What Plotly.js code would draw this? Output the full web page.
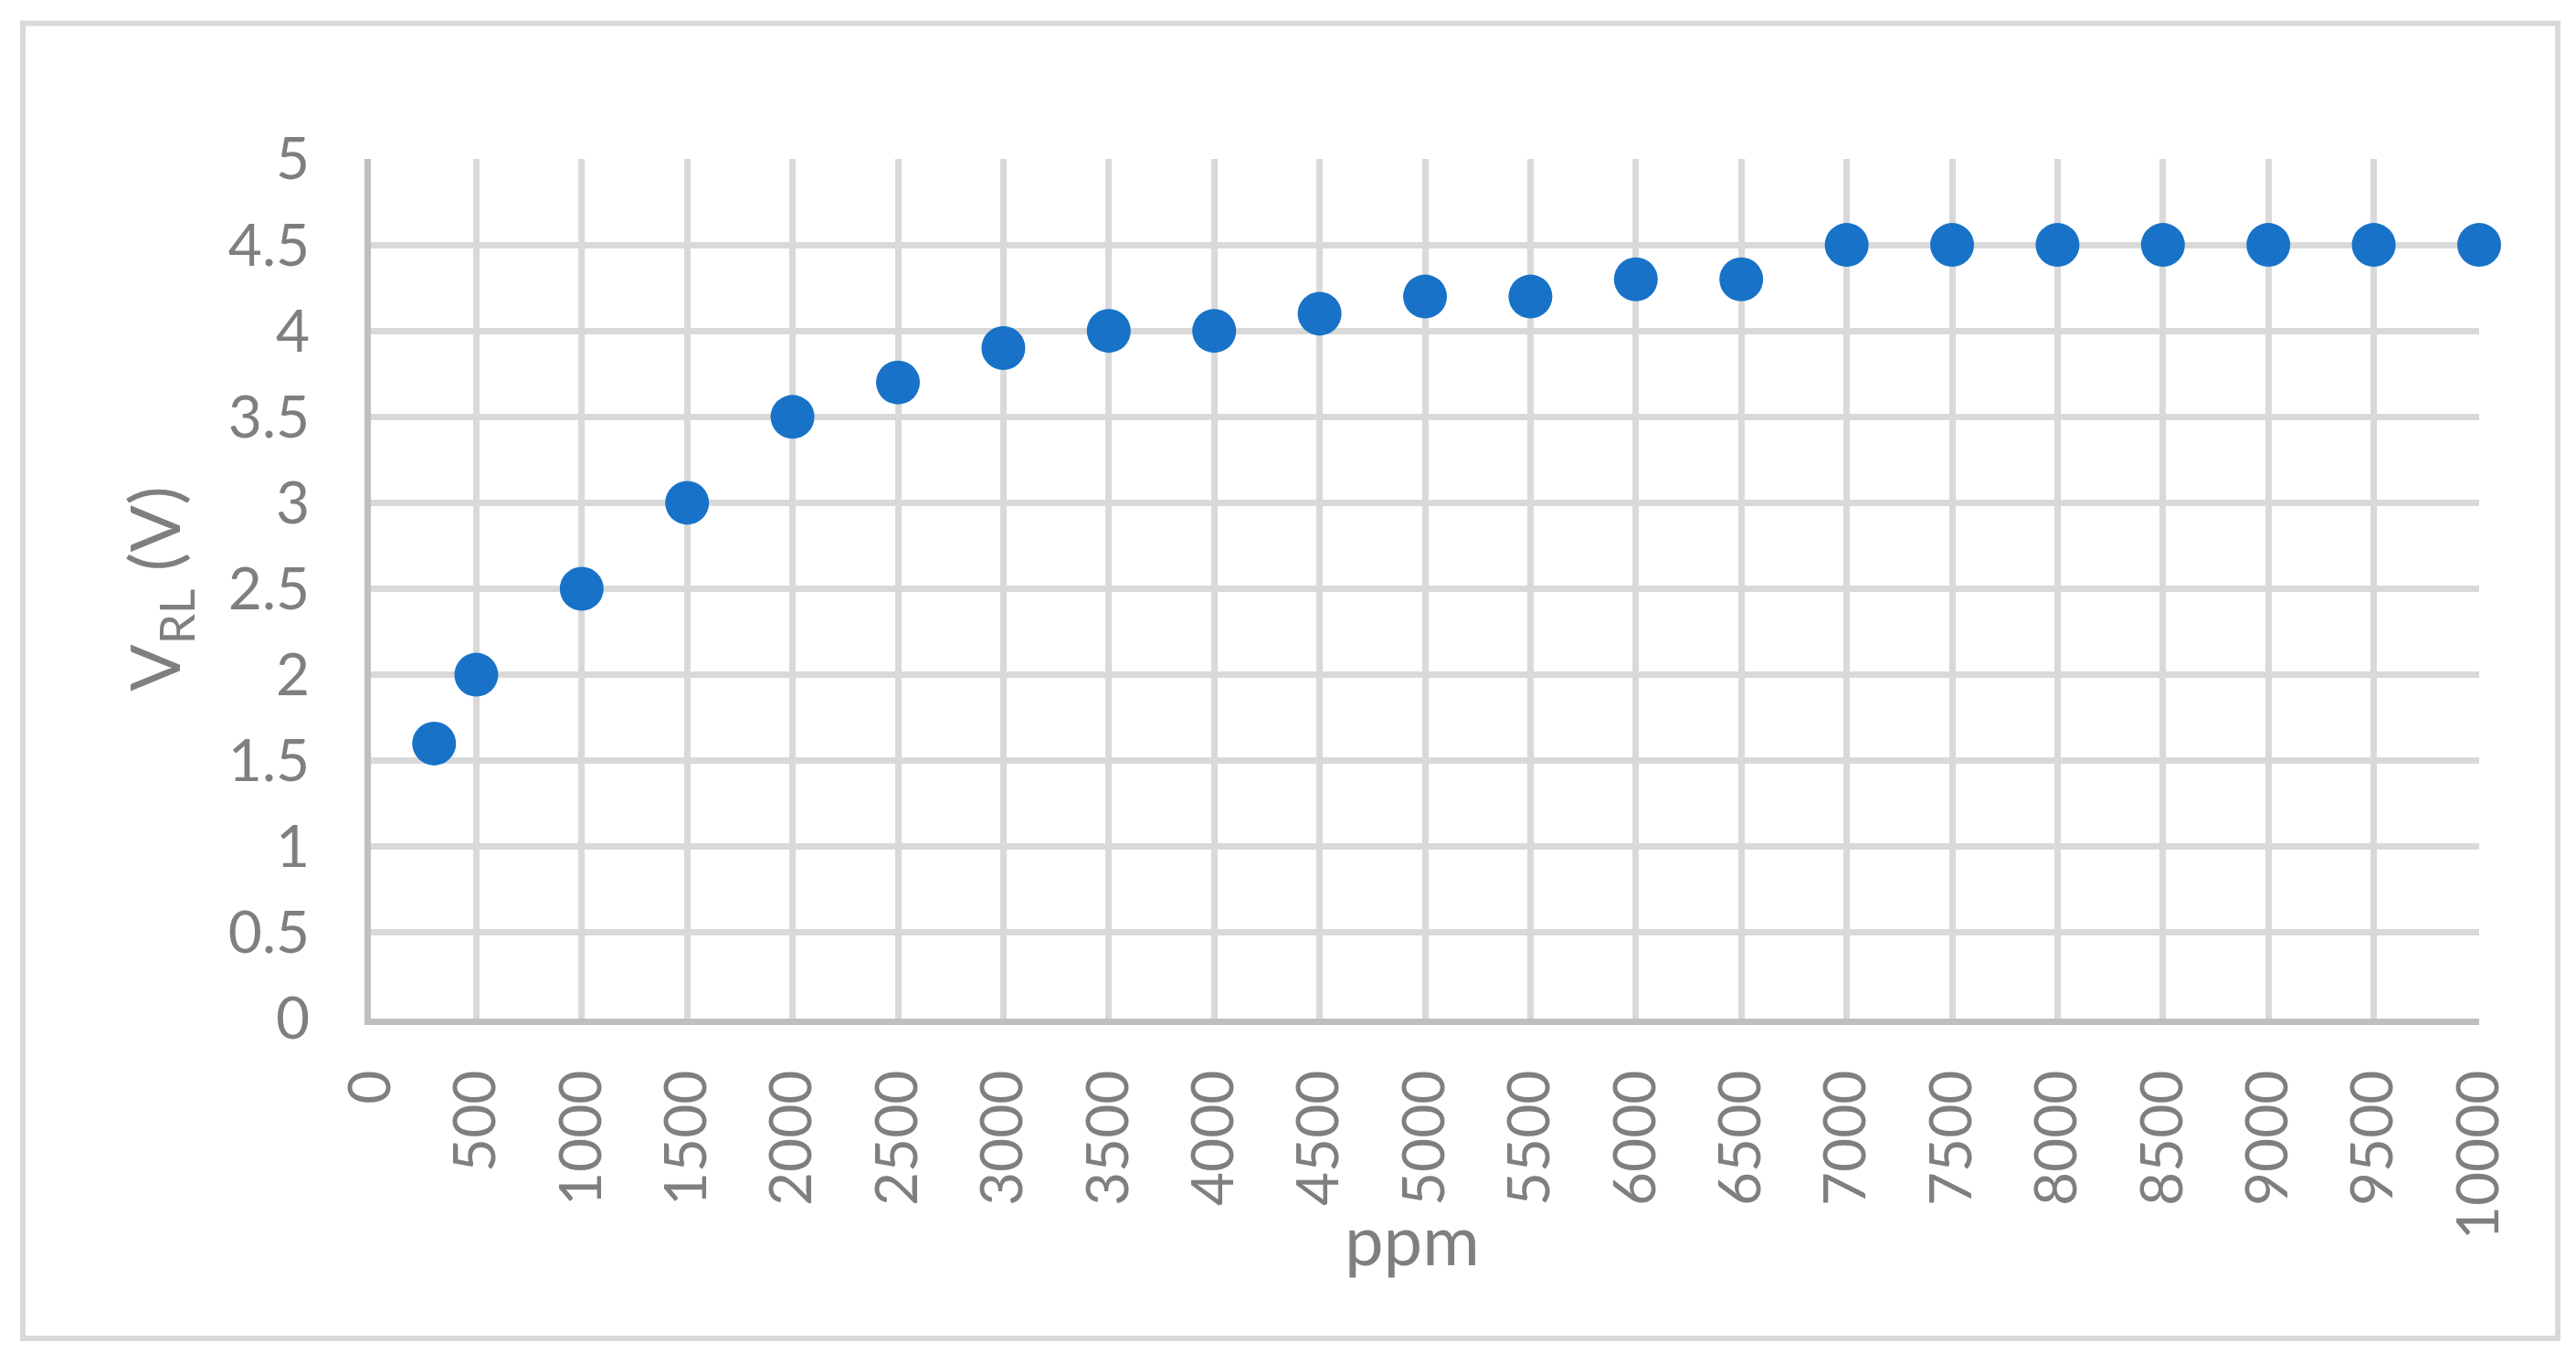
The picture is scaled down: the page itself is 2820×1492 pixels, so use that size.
<!DOCTYPE html>
<html>
<head>
<meta charset="utf-8">
<script src="https://cdn.plot.ly/plotly-3.0.1.min.js"></script>
<style>
  html, body { margin: 0; padding: 0; background: #ffffff; }
  #chart { width: 2820px; height: 1492px; }
</style>
</head>
<body>
<div id="chart"></div>
<script>
// Data
const ppm = [300, 500, 1000, 1500, 2000, 2500, 3000, 3500, 4000, 4500, 5000, 5500, 6000, 6500, 7000, 7500, 8000, 8500, 9000, 9500, 10000];
const vrl = [1.6, 2.0, 2.5, 3.0, 3.5, 3.7, 3.9, 4.0, 4.0, 4.1, 4.2, 4.2, 4.3, 4.3, 4.5, 4.5, 4.5, 4.5, 4.5, 4.5, 4.5];
const xTitle = 'ppm';
const yTitle = 'V<sub>RL</sub> (V)';

const FONT = 'Lato, "Open Sans", "Liberation Sans", sans-serif';
const GRAY = '#7f7f7f';

const trace = {
  type: 'scatter',
  mode: 'markers',
  x: ppm,
  y: vrl,
  cliponaxis: false,
  marker: { color: '#1873c8', size: 48, line: { width: 0 } },
  hoverinfo: 'x+y',
  showlegend: false
};

const layout = {
  width: 2820,
  height: 1492,
  paper_bgcolor: '#ffffff',
  plot_bgcolor: '#ffffff',
  margin: { l: 406, r: 106, t: 174, b: 377, autoexpand: false },
  font: { family: FONT, color: GRAY, size: 64 },
  showlegend: false,
  xaxis: {
    range: [0, 10000],
    dtick: 500,
    tick0: 0,
    tickformat: 'd',
    tickangle: -90,
    ticks: '',
    ticklabelstandoff: 24,
    showgrid: true,
    gridcolor: '#d9d9d9',
    gridwidth: 7,
    zeroline: false,
    showline: true,
    linecolor: '#bfbfbf',
    linewidth: 7,
    tickfont: { family: FONT, size: 64, color: GRAY },
    automargin: false,
    fixedrange: true
  },
  yaxis: {
    range: [0, 5],
    dtick: 0.5,
    tick0: 0,
    ticks: '',
    ticklabelstandoff: 47,
    showgrid: true,
    gridcolor: '#d9d9d9',
    gridwidth: 7,
    zeroline: false,
    showline: true,
    linecolor: '#bfbfbf',
    linewidth: 7,
    tickfont: { family: FONT, size: 64, color: GRAY },
    title: { text: yTitle, font: { family: FONT, size: 76, color: GRAY }, standoff: 30 },
    automargin: false,
    fixedrange: true
  },
  annotations: [
    {
      text: xTitle,
      xref: 'paper', yref: 'paper',
      x: 0.4939, y: -0.2561,
      xanchor: 'center', yanchor: 'middle',
      showarrow: false,
      font: { family: FONT, size: 76, color: GRAY }
    }
  ],
  shapes: [
    {
      type: 'rect',
      xref: 'paper', yref: 'paper',
      x0: -0.1651, x1: 1.0373, y0: -0.3719, y1: 1.1578,
      line: { color: '#d9d9d9', width: 6 },
      fillcolor: 'rgba(0,0,0,0)',
      layer: 'below'
    }
  ]
};

Plotly.newPlot('chart', [trace], layout, { staticPlot: true, displayModeBar: false });
</script>
</body>
</html>
